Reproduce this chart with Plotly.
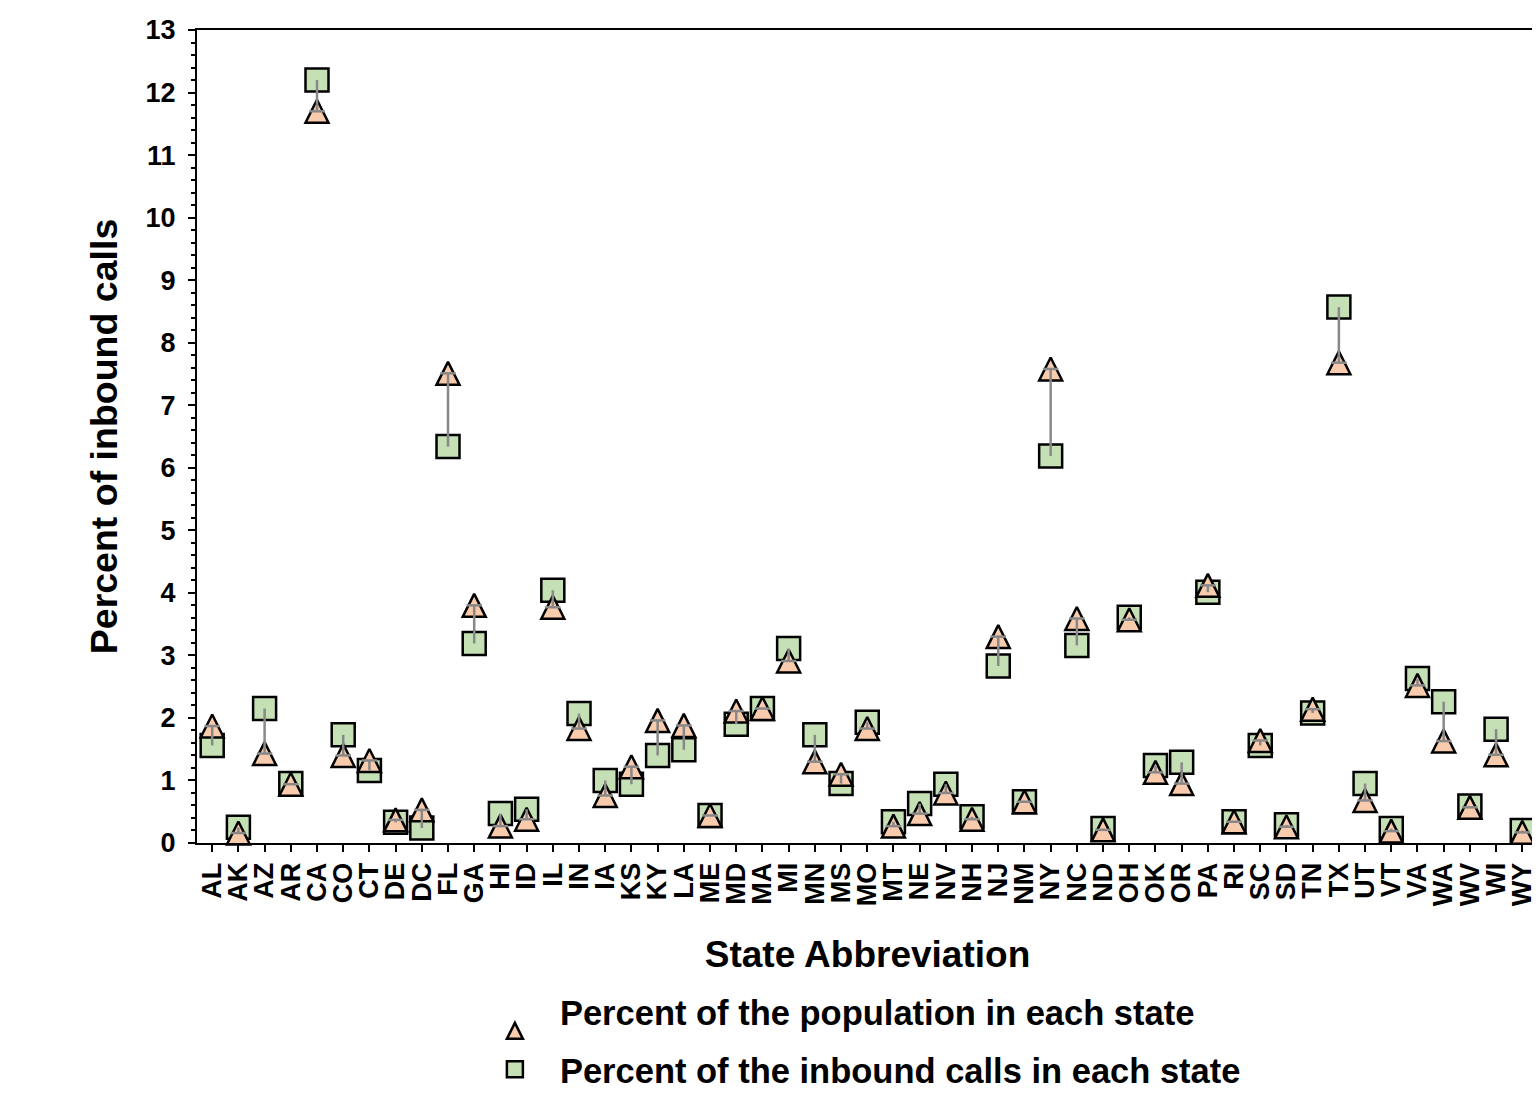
import plotly.graph_objects as go

states = ["AL","AK","AZ","AR","CA","CO","CT","DE","DC","FL","GA","HI","ID","IL","IN","IA","KS","KY","LA","ME",
          "MD","MA","MI","MN","MS","MO","MT","NE","NV","NH","NJ","NM","NY","NC","ND","OH","OK","OR","PA","RI",
          "SC","SD","TN","TX","UT","VT","VA","WA","WV","WI","WY"]

pct_population = [1.87,0.16,1.43,0.94,11.70,1.40,1.32,0.37,0.53,7.51,3.80,0.27,0.38,3.77,1.83,0.76,1.22,1.96,1.88,0.44,
                  2.11,2.15,2.91,1.30,1.10,1.83,0.27,0.47,0.80,0.38,3.30,0.66,7.58,3.59,0.21,3.57,1.13,0.95,4.12,0.34,
                  1.64,0.26,2.14,7.68,0.68,0.19,2.52,1.63,0.57,1.41,0.17]

pct_calls = [1.56,0.25,2.15,0.95,12.20,1.73,1.16,0.33,0.24,6.34,3.19,0.47,0.54,4.04,2.07,1.00,0.94,1.40,1.49,0.44,
             1.90,2.15,3.11,1.73,0.95,1.93,0.34,0.63,0.94,0.42,2.83,0.66,6.19,3.16,0.23,3.61,1.24,1.29,4.01,0.34,
             1.56,0.29,2.08,8.57,0.95,0.23,2.63,2.26,0.59,1.82,0.20]

y_ticks = list(range(0, 14))

legend_population = "Percent of the population in each state"
legend_calls = "Percent of the inbound calls in each state"
x_title = "State Abbreviation"
y_title = "Percent of inbound calls"

FONT = "Liberation Sans, Arial, sans-serif"
TRI_FILL = "#F8CBAD"
SQ_FILL = "#C5E0B4"
LINE_GREY = "#888888"
TRI_SIZE = 23

# connector segments built from the data arrays
seg_x, seg_y = [], []
for s, p, c in zip(states, pct_population, pct_calls):
    seg_x += [s, s, None]
    seg_y += [c, p, None]

fig = go.Figure()

fig.add_trace(go.Scatter(
    x=states, y=pct_calls, mode="markers", name=legend_calls,
    legendgroup="calls", legendrank=2,
    marker=dict(symbol="square", size=23, color=SQ_FILL, line=dict(color="black", width=2.5)),
    cliponaxis=False,
))
fig.add_trace(go.Scatter(
    x=states, y=pct_population, mode="markers", name=legend_population,
    legendgroup="pop", legendrank=1,
    marker=dict(symbol="arrow-down", angle=180, size=TRI_SIZE, standoff=TRI_SIZE / 2,
                color=TRI_FILL, line=dict(color="black", width=2.5)),
    cliponaxis=False,
))
fig.add_trace(go.Scatter(
    x=seg_x, y=seg_y, mode="lines", showlegend=False, hoverinfo="skip",
    line=dict(color=LINE_GREY, width=2.5), cliponaxis=False,
))
fig.add_trace(go.Scatter(
    x=states, y=pct_population, mode="markers", showlegend=False, hoverinfo="skip",
    marker=dict(symbol="line-ew", size=11, line=dict(color=LINE_GREY, width=2.5)),
    cliponaxis=False,
))

# the page adds an 8px body margin, so the figure is sized 8px smaller
fig.update_layout(
    width=1532, height=1092,
    margin=dict(l=189, r=2, t=22, b=257),
    paper_bgcolor="white", plot_bgcolor="white",
    font=dict(family=FONT, color="black", size=27, weight="bold"),
    showlegend=True,
    legend=dict(
        x=0.2035, y=-0.1715, xanchor="left", yanchor="top",
        font=dict(family=FONT, size=34.5, weight="bold", color="black"),
        tracegroupgap=10, itemwidth=80, bgcolor="rgba(0,0,0,0)",
    ),
)

fig.update_xaxes(
    type="category", categoryorder="array", categoryarray=states,
    range=[-0.58, 50.6], automargin=False,
    tickmode="linear", tick0=0, dtick=1,
    showline=True, linecolor="black", linewidth=2, mirror=True,
    ticks="outside", ticklen=7, tickwidth=2, tickcolor="black",
    tickangle=-90, showgrid=False, zeroline=False,
    tickfont=dict(family=FONT, size=27, weight="bold"),
    title=dict(text=x_title, standoff=36, font=dict(family=FONT, size=37, weight="bold")),
)
fig.update_yaxes(
    range=[0, 13], tickmode="array", tickvals=y_ticks, automargin=False,
    showline=True, linecolor="black", linewidth=2, mirror=True,
    ticks="outside", ticklen=7, tickwidth=2, tickcolor="black",
    ticklabelstandoff=7,
    minor=dict(ticks="outside", ticklen=4, tickwidth=2, tickcolor="black", dtick=0.2, showgrid=False),
    showgrid=False, zeroline=False,
    tickfont=dict(family=FONT, size=27, weight="bold"),
    title=dict(text=y_title, standoff=16, font=dict(family=FONT, size=37.5, weight="bold")),
)

fig.write_html("out.html")
